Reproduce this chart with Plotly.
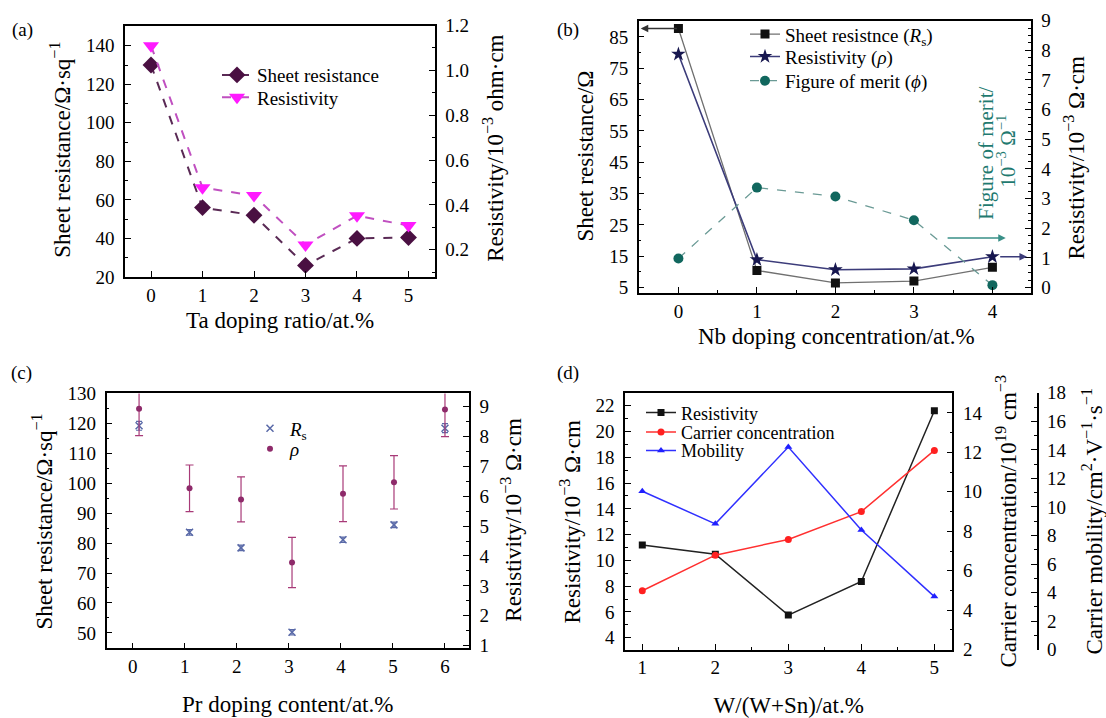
import plotly.graph_objects as go

W, H = 1106, 718
FONT = "Liberation Serif, Times New Roman, serif"
TICK = 19
TITLE = 23
LEG = 19


def fx(p):
    return p / W


def fy(p):
    return 1 - p / H


# ---------------- data ----------------
# (a) Ta doping
a_x = [0, 1, 2, 3, 4, 5]
a_sheet = [130, 56, 52, 26, 40, 40.5]
a_rho = [1.11, 0.477, 0.442, 0.222, 0.352, 0.308]

# (b) Nb doping
b_x = [0, 1, 2, 3, 4]
b_sheet = [87.7, 10.5, 6.5, 7.1, 11.5]
b_rho = [7.87, 0.94, 0.60, 0.63, 1.04]
b_fom = [0.98, 3.37, 3.07, 2.27, 0.08]

# (c) Pr doping
c_x = [0.12, 1.09, 2.08, 3.06, 4.04, 5.02, 6.0]
c_rs = [119.2, 83.6, 78.4, 50.2, 81.1, 86.1, 118.4]
c_rs_err = [1.5, 0.9, 0.9, 0.9, 0.9, 0.9, 1.5]
c_rho = [8.92, 6.26, 5.89, 3.78, 6.08, 6.46, 8.89]
c_rho_err = [0.9, 0.78, 0.75, 0.84, 0.93, 0.89, 0.9]

# (d) W doping
d_x = [1, 2, 3, 4, 5]
d_rho = [11.2, 10.48, 5.76, 8.37, 21.62]
d_conc = [4.99, 6.79, 7.59, 9.0, 12.1]
d_mob = [11.1, 8.82, 14.2, 8.39, 3.72]

fig = go.Figure()

# (a)
fig.add_trace(go.Scatter(x=a_x, y=a_sheet, name="Sheet resistance", mode="lines+markers",
                         xaxis="x", yaxis="y", legend="legend", showlegend=True,
                         line=dict(color="#5a2a55", width=2, dash="dash"),
                         marker=dict(symbol="diamond", size=13, color="#4a1042")))
fig.add_trace(go.Scatter(x=a_x, y=a_rho, name="Resistivity", mode="lines+markers",
                         xaxis="x", yaxis="y2", legend="legend2", showlegend=True,
                         line=dict(color="#c050c0", width=2, dash="dash"),
                         marker=dict(symbol="triangle-down", size=14, color="#ff1aff")))

# (b)
fig.add_trace(go.Scatter(x=b_x, y=b_sheet, name="Sheet resistnce (<i>R</i><sub>s</sub>)",
                         mode="lines+markers", xaxis="x2", yaxis="y3", legend="legend3",
                         line=dict(color="#707070", width=1.3),
                         marker=dict(symbol="square", size=9, color="#111111")))
fig.add_trace(go.Scatter(x=b_x, y=b_rho, name="Resistivity (<i>ρ</i>)",
                         mode="lines+markers", xaxis="x2", yaxis="y4", legend="legend4",
                         line=dict(color="#3c3c7a", width=1.6),
                         marker=dict(symbol="star", size=11, color="#17174f")))
fig.add_trace(go.Scatter(x=b_x, y=b_fom, name="Figure of merit (<i>ϕ</i>)",
                         mode="lines+markers", xaxis="x2", yaxis="y4", legend="legend5",
                         line=dict(color="#6a9a95", width=1.3, dash="dash"),
                         marker=dict(symbol="circle", size=10, color="#11675e")))

# (c)
fig.add_trace(go.Scatter(x=c_x, y=c_rs, name="<i>R</i><sub>s</sub>", mode="markers",
                         xaxis="x3", yaxis="y5", legend="legend6",
                         error_y=dict(type="data", array=c_rs_err, color="#5a6aa8",
                                      thickness=1.2, width=3),
                         marker=dict(symbol="x-thin", size=7, color="#5a6aa8",
                                     line=dict(width=1.5, color="#5a6aa8"))))
fig.add_trace(go.Scatter(x=c_x, y=c_rho, name="<i>ρ</i>", mode="markers",
                         xaxis="x3", yaxis="y6", legend="legend7",
                         error_y=dict(type="data", array=c_rho_err, color="#a83a78",
                                      thickness=1.2, width=4),
                         marker=dict(symbol="circle", size=6, color="#8e2a6a")))

# (d)
fig.add_trace(go.Scatter(x=d_x, y=d_rho, name="Resistivity", mode="lines+markers",
                         xaxis="x4", yaxis="y7", legend="legend8",
                         line=dict(color="#222222", width=1.5),
                         marker=dict(symbol="square", size=7, color="#111111")))
fig.add_trace(go.Scatter(x=d_x, y=d_conc, name="Carrier concentration", mode="lines+markers",
                         xaxis="x4", yaxis="y8", legend="legend9",
                         line=dict(color="#ff3030", width=1.5),
                         marker=dict(symbol="circle", size=7, color="#ff2020")))
fig.add_trace(go.Scatter(x=d_x, y=d_mob, name="Mobility", mode="lines+markers",
                         xaxis="x4", yaxis="y9", legend="legend10",
                         line=dict(color="#3030ff", width=1.5),
                         marker=dict(symbol="triangle-up", size=7, color="#2020ff")))

tickfont = dict(family=FONT, size=TICK, color="black")
titlefont = dict(family=FONT, size=TITLE, color="black")


def ax(**kw):
    d = dict(showline=True, linecolor="black", linewidth=1.5, showgrid=False,
             zeroline=False, ticks="inside", ticklen=6, tickwidth=1.2,
             tickcolor="black", tickfont=tickfont)
    d.update(kw)
    return d


def minor(dt):
    return dict(dtick=dt, ticks="inside", ticklen=3, tickwidth=1, tickcolor="black")


# domains
A_X = [fx(125), fx(434.6)]
A_Y = [fy(275), fy(16)]
B_X = [fx(638.7), fx(1030.8)]
B_Y = [fy(291.7), fy(11)]
C_X = [fx(106.5), fx(468.9)]
C_Y = [fy(657.7), fy(395)]
D_X = [fx(625), fx(952.4)]
D_Y = [fy(659), fy(394.3)]

YS = 5  # tick label standoff for y axes

fig.update_layout(
    width=W, height=H, margin=dict(l=0, r=0, t=0, b=0),
    paper_bgcolor="white", plot_bgcolor="white", showlegend=True,
    font=dict(family=FONT, size=TICK, color="black"),
    # (a)
    xaxis=ax(domain=A_X, anchor="y", range=[-0.505, 5.507], tick0=0, dtick=1, mirror=True),
    yaxis=ax(domain=A_Y, anchor="x", range=[20, 150.5], tick0=20, dtick=20, minor=minor(10),
             ticklabelstandoff=YS),
    yaxis2=ax(overlaying="y", side="right", anchor="x", range=[0.079, 1.2], tick0=0.2,
              dtick=0.2, tickformat=".1f", minor=minor(0.1), ticklabelstandoff=YS),
    # (b)
    xaxis2=ax(domain=B_X, anchor="y3", range=[-0.506, 4.489], tick0=0, dtick=1,
              mirror=True, minor=minor(0.5)),
    yaxis3=ax(domain=B_Y, anchor="x2", range=[3.24, 90.2], tick0=5, dtick=10, minor=minor(5),
              ticklabelstandoff=YS),
    yaxis4=ax(overlaying="y3", side="right", anchor="x2", range=[-0.19, 9], tick0=0, dtick=1,
              minor=minor(0.25), ticklabelstandoff=YS),
    # (c)
    xaxis3=ax(domain=C_X, anchor="y5", range=[-0.506, 6.46], tick0=0, dtick=1, mirror=True,
              title=dict(text="Pr doping content/at.%", font=titlefont, standoff=20)),
    yaxis5=ax(domain=C_Y, anchor="x3", range=[44.8, 130.0], tick0=50, dtick=10, minor=minor(5),
              ticklabelstandoff=YS),
    yaxis6=ax(overlaying="y5", side="right", anchor="x3", range=[0.91, 9.43], tick0=1, dtick=1,
              minor=minor(0.5), ticklabelstandoff=YS),
    # (d)
    xaxis4=ax(domain=D_X, anchor="y7", range=[0.763, 5.247], tick0=1, dtick=1,
              mirror=True, minor=minor(0.5),
              title=dict(text="W/(W+Sn)/at.%", font=titlefont, standoff=20)),
    yaxis7=ax(domain=D_Y, anchor="x4", range=[3.07, 23.01], tick0=4, dtick=2, minor=minor(1),
              ticklabelstandoff=YS),
    yaxis8=ax(overlaying="y7", side="right", anchor="x4", range=[2, 15.02], tick0=2, dtick=2,
              minor=minor(1), ticklabelstandoff=YS),
    yaxis9=ax(overlaying="y7", side="right", anchor="free", position=fx(1037.5), range=[0, 18],
              tick0=0, dtick=2, minor=minor(1), ticklabelstandoff=YS),
)


def leg(x, y, size=LEG):
    return dict(x=fx(x), y=fy(y), xanchor="left", yanchor="middle",
                bgcolor="rgba(0,0,0,0)", font=dict(family=FONT, size=size, color="black"))


fig.update_layout(
    legend=leg(217, 67), legend2=leg(217, 90),
    legend3=leg(745, 25), legend4=leg(745, 48), legend5=leg(745, 73),
    legend6=leg(250, 431), legend7=leg(250, 452),
    legend8=leg(641, 415, 18), legend9=leg(641, 435, 18), legend10=leg(641, 454, 18),
)

ann = []


def text(t, x, y, angle=0, size=TITLE, color="black", yanchor="middle"):
    ann.append(dict(text=t, x=fx(x), y=fy(y), xref="paper", yref="paper", showarrow=False,
                    textangle=angle, xanchor="center", yanchor=yanchor,
                    font=dict(family=FONT, size=size, color=color)))


# panel labels
text("(a)", 22, 21, size=19)
text("(b)", 568, 21, size=19)
text("(c)", 21, 374, size=19)
text("(d)", 568, 374, size=19)

# (a) titles
text("Sheet resistance/Ω·sq<sup>−1</sup>", 61, 144, -90)
text("Resistivity/10<sup>−3</sup> ohm·cm", 494, 143, -90)
text("Ta doping ratio/at.%", 280, 320)
# (b) titles
text("Sheet resistance/Ω", 586, 151, -90)
text("Resistivity/10<sup>−3</sup> Ω·cm", 1075, 152, -90)
text("Nb doping concentration/at.%", 836, 336)
text("Figure of merit/", 986, 148, -90, size=21, color="#1f7a70")
text("10<sup>−3</sup> Ω<sup>−1</sup>", 1007, 146, -90, size=21, color="#1f7a70")
# (c) titles
text("Sheet resistance/Ω·sq<sup>−1</sup>", 43, 527, -90)
text("Resistivity/10<sup>−3</sup> Ω·cm", 512, 525, -90)
# (d) titles
text("Resistivity/10<sup>−3</sup> Ω·cm", 571, 527, -90)
text("Carrier concentration/10<sup>19</sup> cm<sup>−3</sup>", 1007, 527, -90)
text("Carrier mobility/cm<sup>2</sup>·V<sup>−1</sup>·s<sup>−1</sup>", 1093, 527, -90)

# (b) arrows pointing to the axes used
ann.append(dict(x=-0.48, y=b_sheet[0], xref="x2", yref="y3", ax=b_x[0], ay=b_sheet[0],
                axref="x2", ayref="y3", showarrow=True, arrowhead=2, arrowsize=1,
                arrowwidth=1.5, arrowcolor="#333333", text=""))
ann.append(dict(x=4.44, y=b_rho[4], xref="x2", yref="y4", ax=4.08, ay=b_rho[4],
                axref="x2", ayref="y4", showarrow=True, arrowhead=2, arrowsize=1,
                arrowwidth=1.5, arrowcolor="#3c3c7a", text=""))
ann.append(dict(x=4.17, y=1.67, xref="x2", yref="y4", ax=3.41, ay=1.67,
                axref="x2", ayref="y4", showarrow=True, arrowhead=2, arrowsize=1,
                arrowwidth=1.5, arrowcolor="#3a9088", text=""))

fig.update_layout(annotations=ann)
fig.write_html("out.html")
